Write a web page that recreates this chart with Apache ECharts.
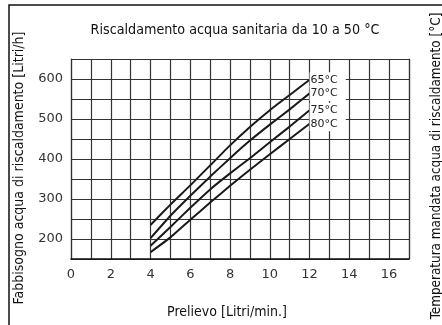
<!DOCTYPE html>
<html>
<head>
<meta charset="utf-8">
<script src="https://cdn.jsdelivr.net/npm/echarts@6/dist/echarts.min.js"></script>
<style>
html,body{margin:0;padding:0;background:#fff;}
#c{width:442px;height:325px;}
</style>
</head>
<body>
<div id="c"></div>
<script>
var titleText = 'Riscaldamento acqua sanitaria da 10 a 50 °C';
var xName = 'Prelievo [Litri/min.]';
var yName = 'Fabbisogno acqua di riscaldamento [Litri/h]';
var y2Name = 'Temperatura mandata acqua di riscaldamento [°C]';
var flow = [4, 5, 6, 7, 8, 9, 10, 11, 12];
var seriesNames = ['65°C', '70°C', '75°C', '80°C'];
var t65 = [235, 286, 334, 384, 434, 480, 522, 560, 598];
var t70 = [202, 258, 308, 356, 402, 446, 486, 524, 564];
var t75 = [183, 230, 278, 324, 364, 402, 442, 481, 522];
var t80 = [167, 204, 248, 291, 333, 373, 412, 450, 488];
var seriesValues = [t65, t70, t75, t80];

var narrow = "'Liberation Sans Narrow', 'DejaVu Sans Condensed', 'Liberation Sans', sans-serif";
var tickFont = "'DejaVu Sans', sans-serif";

var chart = echarts.init(document.getElementById('c'), null, {renderer: 'canvas'});

var series = seriesNames.map(function (n, i) {
  return {
    name: n,
    type: 'line',
    data: flow.map(function (x, j) { return [x, seriesValues[i][j]]; }),
    showSymbol: false,
    smooth: 0.15,
    lineStyle: {color: '#1a1a1a', width: 2},
    itemStyle: {color: '#1a1a1a'},
    z: 5,
    endLabel: {
      show: true,
      formatter: n,
      color: '#222',
      fontFamily: tickFont,
      fontSize: 11,
      backgroundColor: '#fff',
      padding: [2, 8, 2, 1],
      distance: 0
    },
    emphasis: {disabled: true}
  };
});

chart.setOption({
  animation: false,
  backgroundColor: '#fff',
  title: {
    text: titleText,
    left: 230,
    textAlign: 'center',
    top: 18,
    textStyle: {fontFamily: narrow, fontSize: 14.2, fontWeight: 'normal', color: '#111'}
  },
  graphic: [{
    type: 'rect',
    shape: {x: 9, y: 5, width: 460, height: 340},
    style: {fill: 'none', stroke: '#111', lineWidth: 1.5},
    silent: true
  }],
  grid: {left: 71, right: 33, top: 59, bottom: 66, outerBoundsMode: 'none', containLabel: false},
  xAxis: {
    type: 'value',
    min: 0, max: 17, interval: 1,
    name: xName,
    nameLocation: 'middle',
    nameGap: 46,
    nameTextStyle: {fontFamily: narrow, fontSize: 14, color: '#111', padding: [0, 26, 0, 0]},
    axisLine: {show: true, lineStyle: {color: '#111', width: 1.5}},
    axisTick: {show: false},
    axisLabel: {
      margin: 9,
      fontFamily: tickFont, fontSize: 13, color: '#333',
      formatter: function (v) { return (v % 2 === 0 && v <= 16) ? String(v) : ''; }
    },
    splitLine: {show: true, lineStyle: {color: '#333', width: 1.2}}
  },
  yAxis: [{
    type: 'value',
    min: 150, max: 650, interval: 50,
    name: yName,
    nameLocation: 'middle',
    nameGap: 45,
    nameTextStyle: {fontFamily: narrow, fontSize: 14, color: '#111', padding: [0, 18, 0, 0]},
    axisLine: {show: true, lineStyle: {color: '#333', width: 1.2}},
    axisTick: {show: false},
    axisLabel: {
      margin: 8,
      fontFamily: tickFont, fontSize: 13, color: '#333',
      formatter: function (v) { return (v % 100 === 0 && v >= 200 && v <= 600) ? String(v) : ''; }
    },
    splitLine: {show: true, lineStyle: {color: '#333', width: 1.2}}
  }, {
    type: 'value',
    position: 'right',
    min: 150, max: 650, interval: 50,
    name: y2Name,
    nameLocation: 'middle',
    nameRotate: 90,
    nameGap: 21,
    nameTextStyle: {fontFamily: narrow, fontSize: 13.4, color: '#111', padding: [0, 14, 0, 0]},
    axisLine: {show: true, lineStyle: {color: '#333', width: 1.2}},
    axisTick: {show: false},
    axisLabel: {show: false},
    splitLine: {show: false}
  }],
  series: series
});
</script>
</body>
</html>
